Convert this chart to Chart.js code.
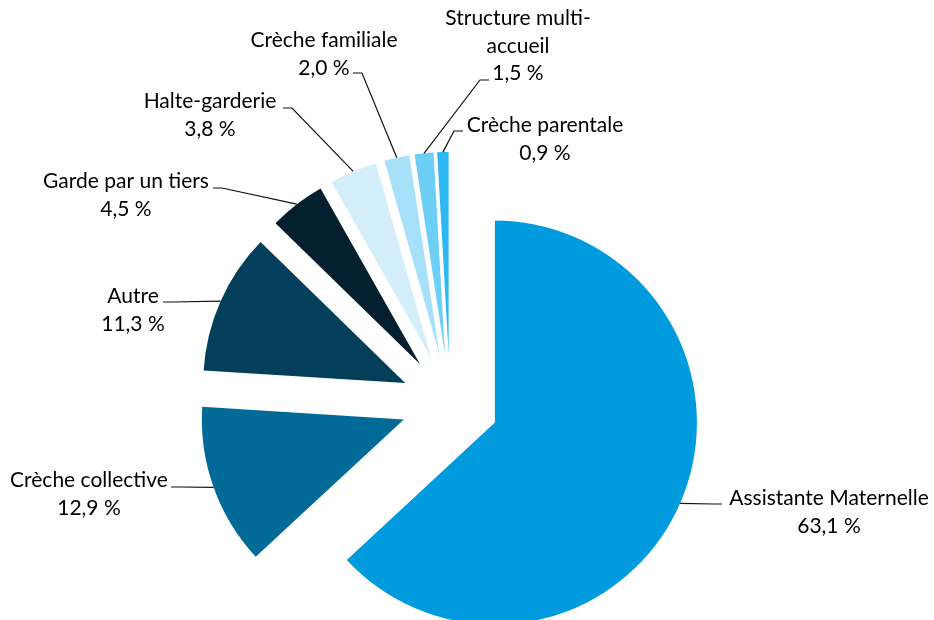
<!DOCTYPE html>
<html>
<head>
<meta charset="utf-8">
<script src="https://cdn.jsdelivr.net/npm/chart.js@4.4.1/dist/chart.umd.min.js"></script>
<style>
  html, body { margin: 0; padding: 0; background: #fff; }
  #wrap { width: 934px; height: 620px; }
</style>
</head>
<body>
<div id="wrap"><canvas id="pie-chart"></canvas></div>
<script>
var labels = ["Assistante Maternelle", "Crèche collective", "Autre", "Garde par un tiers",
              "Halte-garderie", "Crèche familiale", "Structure multi-accueil", "Crèche parentale"];
var values = [63.1, 12.9, 11.3, 4.5, 3.8, 2.0, 1.5, 0.9];
// label text as it is broken on the picture
var labelLines = [["Assistante Maternelle"], ["Crèche collective"], ["Autre"], ["Garde par un tiers"],
                  ["Halte-garderie"], ["Crèche familiale"], ["Structure multi-", "accueil"], ["Crèche parentale"]];
var colors = ["#009bdf", "#026a97", "#033e5a", "#04202f", "#d4eefb", "#a7e0f9", "#6dcef6", "#2cb8f3"];

// label placement: text centre x, first baseline y, end of leader (ex,ey), elbow side
var labelPos = [
  {x: 829, y: 505, ex: 722, ey: 504, side: -1},
  {x: 89,  y: 487, ex: 171, ey: 487, side: 1},
  {x: 133, y: 303, ex: 163, ey: 302, side: 1},
  {x: 126, y: 188, ex: 213, ey: 188, side: 1},
  {x: 210, y: 108, ex: 283, ey: 108, side: 1},
  {x: 324, y: 47,  ex: 353, ey: 73,  side: 1},
  {x: 518, y: 25,  ex: 489, ey: 80,  side: -1},
  {x: 545, y: 132, ex: 463, ey: 131, side: -1}
];

var EXPLODE = 49;      // every slice pulled out the same distance
var LINE_H = 27.5;

function pct(v) { return v.toFixed(1).replace('.', ',') + ' %'; }

function shift(arc) {
  var mid = (arc.startAngle + arc.endAngle) / 2;
  return {dx: Math.cos(mid) * EXPLODE, dy: Math.sin(mid) * EXPLODE, mid: mid};
}

// draw the arcs ourselves, each one translated out along its middle angle
var explodePlugin = {
  id: 'explode',
  beforeDatasetDraw: function (chart, args) {
    var ctx = chart.ctx;
    args.meta.data.forEach(function (arc) {
      var s = shift(arc);
      ctx.save();
      ctx.translate(s.dx, s.dy);
      arc.draw(ctx);
      ctx.restore();
    });
    return false;
  }
};

var labelPlugin = {
  id: 'outLabels',
  afterDatasetsDraw: function (chart) {
    var ctx = chart.ctx;
    var meta = chart.getDatasetMeta(0);
    ctx.save();
    ctx.font = '21px Lato';
    ctx.fillStyle = '#000';
    ctx.strokeStyle = '#111';
    ctx.lineWidth = 1.2;
    ctx.textAlign = 'center';
    ctx.textBaseline = 'alphabetic';
    meta.data.forEach(function (arc, i) {
      var s = shift(arc);
      var p = labelPos[i];
      var ax = arc.x + s.dx + Math.cos(s.mid) * arc.outerRadius;
      var ay = arc.y + s.dy + Math.sin(s.mid) * arc.outerRadius;
      ctx.beginPath();
      ctx.moveTo(ax, ay);
      ctx.lineTo(p.ex + p.side * 9, p.ey);
      ctx.lineTo(p.ex, p.ey);
      ctx.stroke();
      var lines = labelLines[i].concat([pct(values[i])]);
      lines.forEach(function (t, k) {
        ctx.fillText(t, p.x, p.y + k * LINE_H);
      });
    });
    ctx.restore();
  }
};

new Chart(document.getElementById("pie-chart"), {
  type: 'pie',
  data: {
    labels: labels,
    datasets: [{
      data: values,
      backgroundColor: colors,
      borderWidth: 0,
      radius: 202,
      clip: false
    }]
  },
  options: {
    responsive: true,
    maintainAspectRatio: false,
    animation: false,
    layout: { padding: { left: 0, right: 34, top: 186, bottom: 0 } },
    plugins: {
      legend: { display: false },
      tooltip: { enabled: false }
    }
  },
  plugins: [explodePlugin, labelPlugin]
});
</script>
</body>
</html>
